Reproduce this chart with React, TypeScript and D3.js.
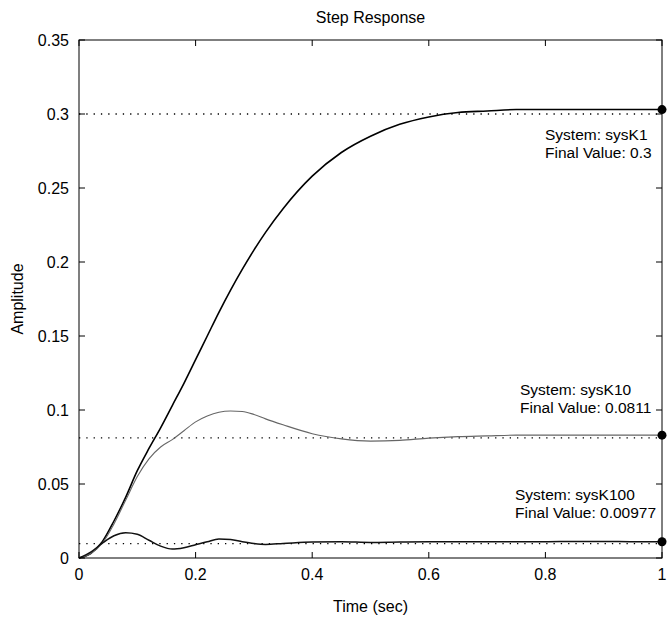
import React from "react";
import * as d3 from "d3";

// sample times (sec) shared by the three step responses
const times = [0, 0.02, 0.04, 0.06, 0.08, 0.1, 0.12, 0.14, 0.16, 0.18, 0.2, 0.22, 0.24, 0.26, 0.28, 0.3, 0.32, 0.35, 0.4, 0.45, 0.5, 0.55, 0.6, 0.65, 0.7, 0.75, 0.8, 0.85, 0.9, 0.95, 1.0];
const sysK1 = [0, 0.003, 0.011, 0.025, 0.041, 0.059, 0.074, 0.088, 0.103, 0.118, 0.134, 0.15, 0.166, 0.181, 0.195, 0.208, 0.22, 0.236, 0.258, 0.274, 0.285, 0.293, 0.298, 0.301, 0.302, 0.303, 0.303, 0.303, 0.303, 0.303, 0.303];
const sysK10 = [0, 0.003, 0.01, 0.023, 0.039, 0.055, 0.067, 0.075, 0.08, 0.086, 0.092, 0.096, 0.0985, 0.0993, 0.099, 0.097, 0.094, 0.09, 0.084, 0.0805, 0.079, 0.0795, 0.081, 0.082, 0.0825, 0.083, 0.083, 0.083, 0.083, 0.083, 0.083];
const sysK100 = [0, 0.004, 0.01, 0.015, 0.017, 0.016, 0.012, 0.008, 0.006, 0.007, 0.009, 0.011, 0.0128, 0.0125, 0.011, 0.0098, 0.0092, 0.0098, 0.0108, 0.011, 0.0105, 0.0108, 0.011, 0.011, 0.011, 0.011, 0.011, 0.0112, 0.0112, 0.011, 0.011];

const systemNames = ["sysK1", "sysK10", "sysK100"];
const finalValues = [0.3, 0.0811, 0.00977];
const finalLabels = ["0.3", "0.0811", "0.00977"];

const xTicks = [0, 0.2, 0.4, 0.6, 0.8, 1];
const yTicks = [0, 0.05, 0.1, 0.15, 0.2, 0.25, 0.3, 0.35];

const W = 672;
const H = 619;
const left = 79, right = 662, top = 40, bottom = 558;
const font = "'Liberation Sans', Arial, sans-serif";

export default function App() {
  const x = d3.scaleLinear().domain([0, 1]).range([left, right]);
  const y = d3.scaleLinear().domain([0, 0.35]).range([bottom, top]);

  const line = d3.line<number>()
    .x((d, i) => x(times[i]))
    .y(d => y(d))
    .curve(d3.curveMonotoneX);

  const series = [
    { values: sysK1, stroke: "#000", width: 1.6 },
    { values: sysK10, stroke: "#666", width: 1.1 },
    { values: sysK100, stroke: "#111", width: 1.5 },
  ];

  // data tip text placement (left x, first line baseline)
  const tips = [
    { x: 545, y: 140 },
    { x: 520, y: 395 },
    { x: 515, y: 500 },
  ];

  const fmt = (v: number) => String(+v.toFixed(2));

  return (
    <svg width={W} height={H} style={{ position: "absolute", left: 0, top: 0, background: "#fff" }} fontFamily={font}>
      <text x={(left + right) / 2} y={23} textAnchor="middle" fontSize={16}>Step Response</text>

      {/* final value dotted lines */}
      {finalValues.map((v, i) => (
        <line key={"f" + i} x1={x(0)} x2={x(1)} y1={y(v)} y2={y(v)}
          stroke="#000" strokeWidth={1.3} strokeDasharray="1.3,6" />
      ))}

      {series.map((s, i) => (
        <path key={"s" + i} d={line(s.values) || ""} fill="none" stroke={s.stroke} strokeWidth={s.width} />
      ))}

      {series.map((s, i) => (
        <circle key={"m" + i} cx={x(1)} cy={y(s.values[s.values.length - 1])} r={4.5} fill="#000" />
      ))}

      {/* frame */}
      <rect x={left} y={top} width={right - left} height={bottom - top} fill="none" stroke="#000" strokeWidth={1} />

      {xTicks.map(t => (
        <g key={"x" + t}>
          <line x1={x(t)} x2={x(t)} y1={bottom} y2={bottom - 6} stroke="#000" />
          <line x1={x(t)} x2={x(t)} y1={top} y2={top + 6} stroke="#000" />
          <text x={x(t)} y={580} textAnchor="middle" fontSize={16}>{fmt(t)}</text>
        </g>
      ))}

      {yTicks.map(t => (
        <g key={"y" + t}>
          <line x1={left} x2={left + 6} y1={y(t)} y2={y(t)} stroke="#000" />
          <line x1={right} x2={right - 6} y1={y(t)} y2={y(t)} stroke="#000" />
          <text x={69} y={y(t)} textAnchor="end" dominantBaseline="central" fontSize={16}>{fmt(t)}</text>
        </g>
      ))}

      {systemNames.map((n, i) => (
        <g key={"t" + i} fontSize={15.5}>
          <text x={tips[i].x} y={tips[i].y}>System: {n}</text>
          <text x={tips[i].x} y={tips[i].y + 18}>Final Value: {finalLabels[i]}</text>
        </g>
      ))}

      <text x={(left + right) / 2} y={612} textAnchor="middle" fontSize={16}>Time (sec)</text>
      <text transform={`translate(17,${(top + bottom) / 2}) rotate(-90)`} textAnchor="middle" dominantBaseline="central" fontSize={16}>Amplitude</text>
    </svg>
  );
}
